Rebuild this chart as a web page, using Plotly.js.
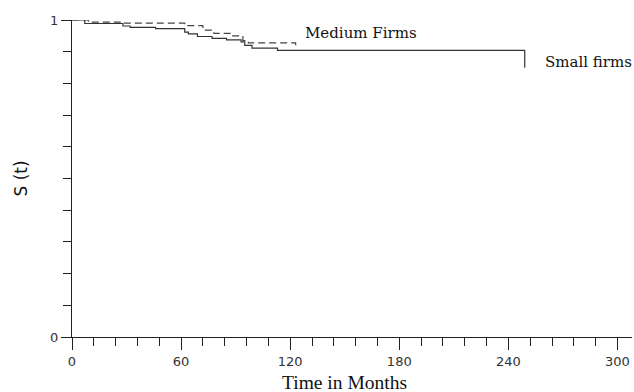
<!DOCTYPE html>
<html>
<head>
<meta charset="utf-8">
<script src="https://cdn.plot.ly/plotly-3.0.1.min.js"></script>
<style>html,body{margin:0;padding:0;background:#fff;}#chart{width:634px;height:392px;}</style>
</head>
<body>
<div id="chart"></div>
<script>
// Kaplan-Meier survival estimates
const smallMonths = [0, 7, 28, 32, 46, 62, 64, 69, 77, 85, 93, 95, 99, 113, 249, 249];
const smallSurv   = [1.0, 0.989, 0.981, 0.977, 0.973, 0.962, 0.956, 0.948, 0.942, 0.937, 0.931, 0.920, 0.911, 0.904, 0.904, 0.849];
const mediumMonths = [0, 9, 28, 62, 72, 78, 87, 94, 97, 123, 123];
const mediumSurv   = [1.0, 0.993, 0.990, 0.982, 0.968, 0.958, 0.950, 0.935, 0.928, 0.928, 0.916];
const xTicks = [0, 60, 120, 180, 240, 300];
const yTicks = [0, 1];
const seriesNames = ['Small firms', 'Medium Firms'];

const traces = [
  {x: smallMonths, y: smallSurv, name: seriesNames[0], mode: 'lines',
   line: {shape: 'hv', color: '#333', width: 1.2}},
  {x: mediumMonths, y: mediumSurv, name: seriesNames[1], mode: 'lines',
   line: {shape: 'hv', color: '#444', width: 1.2, dash: '7px,4px'}}
];

const serif = 'Liberation Serif, Times New Roman, serif';
const labelSerif = 'DejaVu Serif, serif';
const layout = {
  width: 634, height: 392,
  margin: {l: 72, r: 2, t: 20, b: 55},
  paper_bgcolor: '#fff', plot_bgcolor: '#fff',
  showlegend: false,
  xaxis: {range: [0, 308], showgrid: false, zeroline: false,
    showline: true, linecolor: '#222', linewidth: 1,
    ticks: 'outside', ticklen: 12, tickcolor: '#222', tickwidth: 1,
    tickvals: xTicks, ticktext: xTicks.map(String),
    minor: {dtick: 12, tick0: 0, ticks: 'outside', ticklen: 8, tickcolor: '#222', tickwidth: 1},
    tickfont: {family: 'DejaVu Sans, sans-serif', size: 13, color: '#333'}},
  yaxis: {range: [0, 1], showgrid: false, zeroline: false,
    showline: true, linecolor: '#222', linewidth: 1,
    ticks: 'outside', ticklen: 10, tickcolor: '#222', tickwidth: 1,
    tickvals: yTicks, ticktext: yTicks.map(String),
    minor: {dtick: 0.1, tick0: 0, ticks: 'outside', ticklen: 8, tickcolor: '#222', tickwidth: 1},
    tickfont: {family: 'DejaVu Sans, sans-serif', size: 13, color: '#333'}},
  annotations: [
    {text: seriesNames[1], x: 127, y: 0.959, xref: 'x', yref: 'y', xanchor: 'left', yanchor: 'middle',
     showarrow: false, font: {family: labelSerif, size: 15, color: '#111'}},
    {text: seriesNames[0], x: 259, y: 0.868, xref: 'x', yref: 'y', xanchor: 'left', yanchor: 'middle',
     showarrow: false, font: {family: labelSerif, size: 15, color: '#111'}},
    {text: 'Time in Months', x: 0.486, y: 0, xref: 'paper', yref: 'paper', xanchor: 'center', yanchor: 'middle',
     yshift: -45, showarrow: false, font: {family: serif, size: 19.5, color: '#111'}},
    {text: 'S (t)', x: 0, y: 0.5, xref: 'paper', yref: 'paper', xanchor: 'center', yanchor: 'middle',
     xshift: -52, textangle: -90, showarrow: false, font: {family: 'DejaVu Sans, sans-serif', size: 17, color: '#111'}}
  ]
};

Plotly.newPlot('chart', traces, layout, {displayModeBar: false, staticPlot: true});
</script>
</body>
</html>
